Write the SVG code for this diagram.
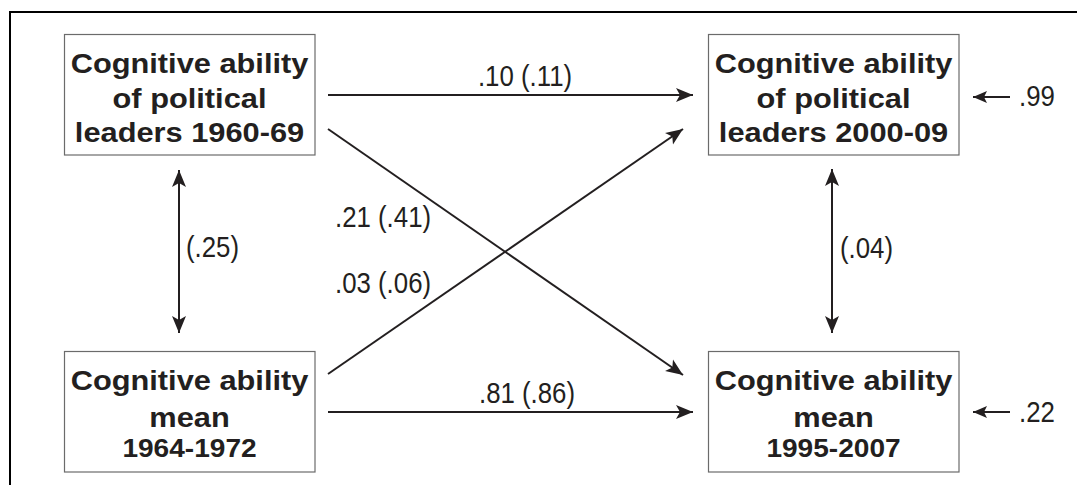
<svg xmlns="http://www.w3.org/2000/svg" width="1077" height="485" viewBox="0 0 1077 485">
<style>
.box{fill:#fff;stroke:#6b6b6b;stroke-width:1.2}
.nt{font-family:"Liberation Sans",Arial,sans-serif;font-weight:bold;font-size:28.5px;fill:#231f20;text-anchor:middle}
.nt2{font-size:26px}
.lb{font-family:"Liberation Sans",Arial,sans-serif;font-size:29px;fill:#231f20}
.cn{stroke:#231f20;stroke-width:2;fill:none}
</style>
<defs>
<marker id="ah" markerUnits="userSpaceOnUse" markerWidth="18" markerHeight="15" refX="17" refY="7" orient="auto-start-reverse" viewBox="0 0 18 14">
<path d="M0,0 L17,7 L0,14 L4,7 Z" fill="#231f20"/>
</marker>
<marker id="ahs" markerUnits="userSpaceOnUse" markerWidth="15" markerHeight="13" refX="14" refY="6" orient="auto" viewBox="0 0 15 12">
<path d="M0,0 L14,6 L0,12 L3,6 Z" fill="#231f20"/>
</marker>
</defs>
<rect x="0" y="0" width="1077" height="485" fill="#fff"/>
<path d="M10,485 L10,12 L1077,12" fill="none" stroke="#000" stroke-width="2"/>

<g id="connectors">
<line class="cn" x1="328" y1="95" x2="693" y2="95" marker-end="url(#ah)"/>
<line class="cn" x1="328" y1="412" x2="693" y2="412" marker-end="url(#ah)"/>
<line class="cn" x1="328" y1="129" x2="683" y2="375" marker-end="url(#ah)"/>
<line class="cn" x1="328" y1="374" x2="683" y2="129" marker-end="url(#ah)"/>
<line class="cn" x1="179" y1="170" x2="179" y2="333" marker-start="url(#ah)" marker-end="url(#ah)"/>
<line class="cn" x1="832" y1="169" x2="832" y2="333" marker-start="url(#ah)" marker-end="url(#ah)"/>
<line class="cn" x1="1010" y1="97" x2="973" y2="97" marker-end="url(#ahs)"/>
<line class="cn" x1="1010" y1="412" x2="973" y2="412" marker-end="url(#ahs)"/>
<text class="lb" transform="translate(525,86) scale(0.89,1)" text-anchor="middle">.10 (.11)</text>
<text class="lb" transform="translate(527,403) scale(0.89,1)" text-anchor="middle">.81 (.86)</text>
<text class="lb" transform="translate(335,227) scale(0.89,1)">.21 (.41)</text>
<text class="lb" transform="translate(335,293) scale(0.89,1)">.03 (.06)</text>
<text class="lb" transform="translate(186,257) scale(0.89,1)">(.25)</text>
<text class="lb" transform="translate(840,258) scale(0.89,1)">(.04)</text>
<text class="lb" transform="translate(1019,106) scale(0.89,1)">.99</text>
<text class="lb" transform="translate(1019,422) scale(0.89,1)">.22</text>
</g>

<g id="n1">
<rect class="box" x="64.5" y="34.5" width="250.5" height="120.5"/>
<text class="nt" transform="translate(189.5,73) scale(1.08,1)">Cognitive ability</text>
<text class="nt" transform="translate(189.5,107.5) scale(1.08,1)">of political</text>
<text class="nt" transform="translate(189.5,142) scale(1.08,1)">leaders 1960-69</text>
</g>
<g id="n2">
<rect class="box" x="64.5" y="351.5" width="250.5" height="120.5"/>
<text class="nt" transform="translate(189.5,390) scale(1.08,1)">Cognitive ability</text>
<text class="nt" transform="translate(189.5,427) scale(1.08,1)">mean</text>
<text class="nt nt2" transform="translate(189.5,457) scale(1.08,1)">1964-1972</text>
</g>
<g id="n3">
<rect class="box" x="708.5" y="34.5" width="250.5" height="120.5"/>
<text class="nt" transform="translate(833.5,73) scale(1.08,1)">Cognitive ability</text>
<text class="nt" transform="translate(833.5,107.5) scale(1.08,1)">of political</text>
<text class="nt" transform="translate(833.5,142) scale(1.08,1)">leaders 2000-09</text>
</g>
<g id="n4">
<rect class="box" x="708.5" y="351.5" width="250.5" height="120.5"/>
<text class="nt" transform="translate(833.5,390) scale(1.08,1)">Cognitive ability</text>
<text class="nt" transform="translate(833.5,427) scale(1.08,1)">mean</text>
<text class="nt nt2" transform="translate(833.5,457) scale(1.08,1)">1995-2007</text>
</g>
</svg>
